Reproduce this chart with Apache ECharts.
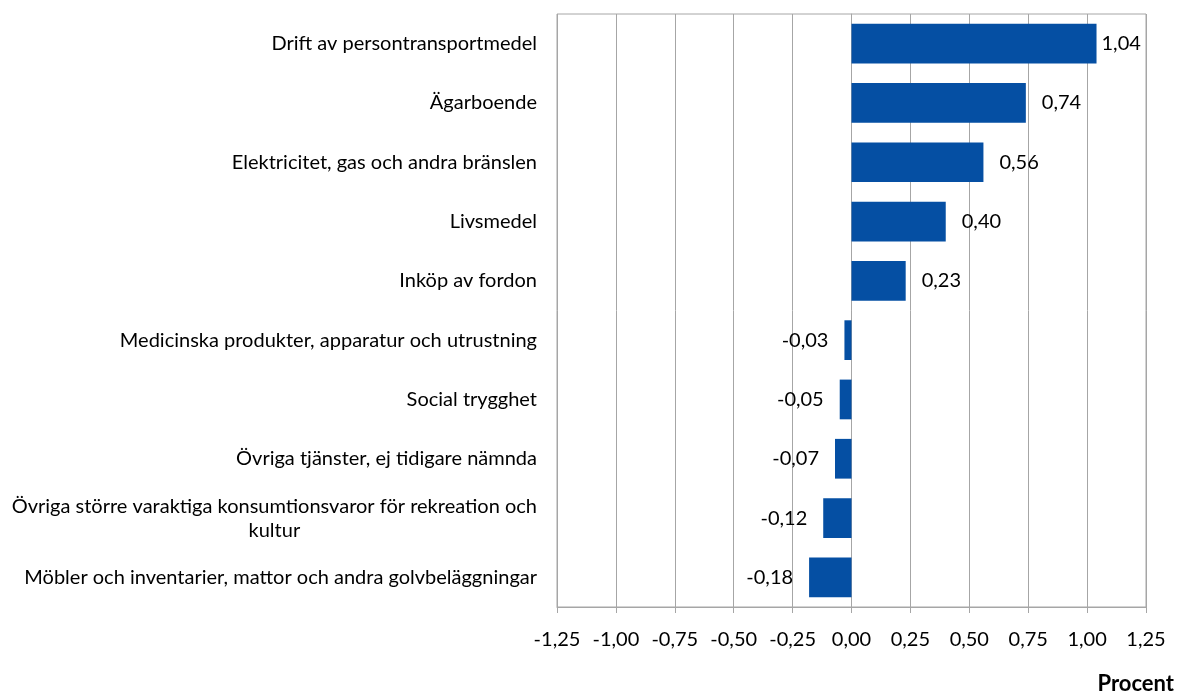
<!DOCTYPE html>
<html>
<head>
<meta charset="utf-8">
<script src="https://cdn.jsdelivr.net/npm/echarts@6/dist/echarts.min.js"></script>
<style>html,body{margin:0;padding:0;background:#fff}#c{width:1178px;height:692px}</style>
</head>
<body>
<div id="c"></div>
<script>
const categories = [
  "Drift av persontransportmedel",
  "Ägarboende",
  "Elektricitet, gas och andra bränslen",
  "Livsmedel",
  "Inköp av fordon",
  "Medicinska produkter, apparatur och utrustning",
  "Social trygghet",
  "Övriga tjänster, ej tidigare nämnda",
  "Övriga större varaktiga konsumtionsvaror för rekreation och\nkultur",
  "Möbler och inventarier, mattor och andra golvbeläggningar"
];
const values = [1.04, 0.74, 0.56, 0.40, 0.23, -0.03, -0.05, -0.07, -0.12, -0.18];
const axisMin = -1.25, axisMax = 1.25, axisStep = 0.25;
const axisTitle = "Procent";

const fmt = v => v.toFixed(2).replace('.', ',');
const FONT = "Lato";
const chart = echarts.init(document.getElementById('c'), null, {renderer: 'canvas'});
chart.setOption({
  animation: false,
  textStyle: {fontFamily: FONT},
  grid: {left: 557, right: 32, top: 14, bottom: 85, show: true, borderColor: '#a6a6a6', borderWidth: 1},
  title: {text: axisTitle, right: 4, top: 673, padding: 0, textStyle: {fontFamily: FONT, fontSize: 22, fontWeight: 'bold', color: '#000'}},
  xAxis: {
    type: 'value', min: axisMin, max: axisMax, interval: axisStep,
    axisLine: {show: true, lineStyle: {color: '#a6a6a6'}},
    axisTick: {show: true, length: 6, lineStyle: {color: '#a6a6a6'}},
    splitLine: {show: true, lineStyle: {color: '#a6a6a6'}},
    axisLabel: {formatter: v => fmt(v), fontSize: 20, color: '#000', margin: 23, fontFamily: FONT}
  },
  yAxis: {
    type: 'category', data: categories, inverse: true,
    axisLine: {show: true, lineStyle: {color: '#a6a6a6'}},
    axisTick: {show: false},
    axisLabel: {
      fontSize: 20, color: '#000', margin: 20, fontFamily: FONT, lineHeight: 24,
      formatter: v => {
        const parts = v.split('\n');
        if (parts.length === 1) return v;
        return parts[0] + '\n{c|' + parts[1] + '}';
      },
      rich: {c: {align: 'center', fontSize: 20, fontFamily: FONT, color: '#000', lineHeight: 24}}
    }
  },
  series: [{
    type: 'bar',
    data: values.map((v, i) => ({
      value: v,
      label: {position: v >= 0 ? 'right' : 'left', distance: i === 0 ? 5 : 16}
    })),
    barCategoryGap: '33%',
    itemStyle: {color: '#054fa3'},
    label: {show: true, formatter: p => fmt(p.value), fontSize: 20, color: '#000', fontFamily: FONT}
  }]
});
</script>
</body>
</html>
